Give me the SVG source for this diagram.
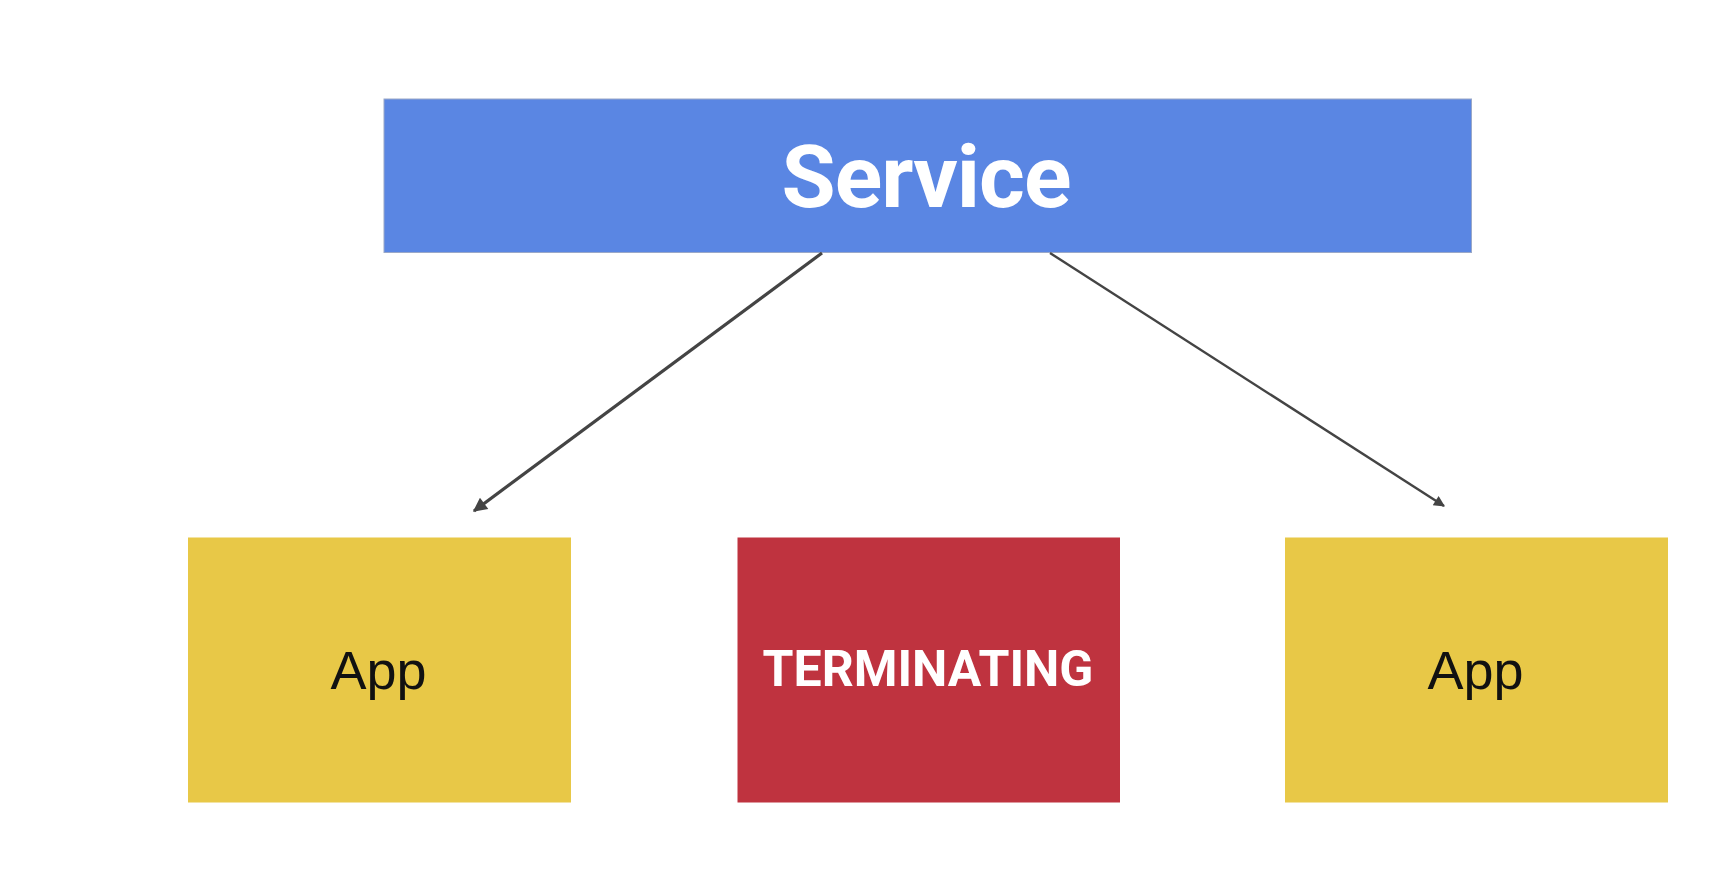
<svg xmlns="http://www.w3.org/2000/svg" width="1712" height="874" viewBox="0 0 1712 874">
<style>
.svc{fill:#5a86e3;stroke:#9aa8c8;stroke-width:1}
.app{fill:#e8c847}
.term{fill:#bf333f}
.lbl-b{font-family:Roboto,"Liberation Sans",sans-serif;font-weight:bold;fill:#ffffff;text-anchor:middle}
.lbl{font-family:"Liberation Sans",Arial,sans-serif;fill:#111111;text-anchor:middle}
.conn{stroke:#444444;fill:none}
</style>
<defs>
<marker id="arr" viewBox="0 0 10 10" refX="9" refY="5" markerWidth="13" markerHeight="11" markerUnits="userSpaceOnUse" orient="auto">
<path d="M0,0 L10,5 L0,10 z" fill="#444444"/>
</marker>
<marker id="arr2" viewBox="0 0 10 10" refX="9" refY="5" markerWidth="16" markerHeight="14" markerUnits="userSpaceOnUse" orient="auto">
<path d="M0,0 L10,5 L0,10 z" fill="#444444"/>
</marker>
</defs>
<rect width="1712" height="874" fill="#ffffff"/>
<g id="service">
<rect class="svc" x="384" y="99" width="1087.5" height="153.5"/>
<text class="lbl-b" x="926" y="207" font-size="88" letter-spacing="-1">Service</text>
</g>
<g id="app-left">
<rect class="app" x="188" y="537.5" width="383" height="265"/>
<text class="lbl" x="378.5" y="689" font-size="54">App</text>
</g>
<g id="terminating">
<rect class="term" x="737.5" y="537.5" width="382.5" height="265"/>
<text class="lbl-b" x="928" y="685.5" font-size="50">TERMINATING</text>
</g>
<g id="app-right">
<rect class="app" x="1285" y="537.5" width="383" height="265"/>
<text class="lbl" x="1475.5" y="689" font-size="54">App</text>
</g>
<g id="connectors">
<line class="conn" x1="822" y1="253" x2="474" y2="511" stroke-width="3.2" marker-end="url(#arr2)"/>
<line class="conn" x1="1050" y1="253" x2="1444" y2="506" stroke-width="2.4" marker-end="url(#arr)"/>
</g>
</svg>
